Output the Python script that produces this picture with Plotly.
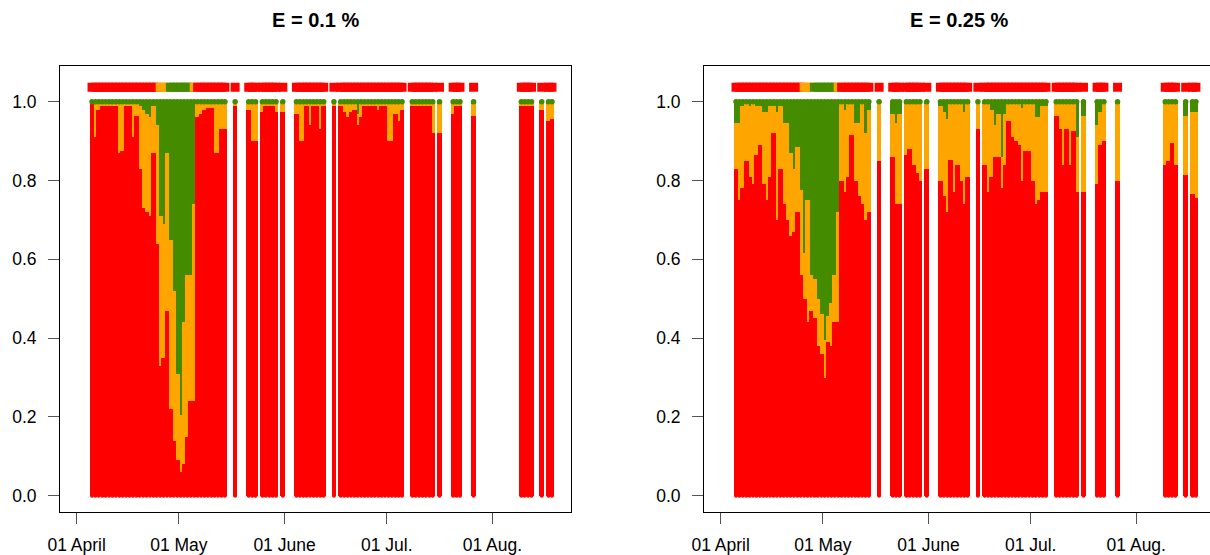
import pandas as pd
import plotly.graph_objects as go

# ---------------- data ----------------
# observation runs (consecutive days with data)
obs_runs = [
    ("2014-04-05", "2014-05-14"), ("2014-05-17", "2014-05-17"),
    ("2014-05-21", "2014-05-23"), ("2014-05-25", "2014-05-29"),
    ("2014-05-31", "2014-05-31"), ("2014-06-04", "2014-06-12"),
    ("2014-06-15", "2014-06-15"), ("2014-06-17", "2014-07-05"),
    ("2014-07-08", "2014-07-14"), ("2014-07-16", "2014-07-16"),
    ("2014-07-20", "2014-07-22"), ("2014-07-26", "2014-07-26"),
    ("2014-08-09", "2014-08-12"), ("2014-08-15", "2014-08-15"),
    ("2014-08-17", "2014-08-18"),
]

# observed class per day (R = red, O = orange, G = green)
top_class = list("RRRRRRRRRRRRRRRRRRRR" "OOOGGGGGGGORRRRRRRRR"
                 "R" "RRR" "RRRRR" "R" "RRRRRRRRR" "R"
                 "RRRRRRRRRRRRRRRRRRR" "RRRRRRR" "R" "RRR" "R" "RRRR" "R" "RR")

# E = 0.1 % : red share (bottom) and cumulative top of orange
red_e1 = [0.995, 0.91, 0.98, 0.99, 0.99, 0.99, 0.99, 0.99, 0.87, 0.875,
          0.99, 0.99, 0.91, 0.965, 0.83, 0.73, 0.72, 0.71, 0.87, 0.64,
          0.33, 0.35, 0.47, 0.22, 0.14, 0.09, 0.06, 0.08, 0.15, 0.24,
          0.24, 0.96, 0.97, 0.98, 0.985, 0.985, 0.87, 0.87, 0.93, 0.93,
          0.99,
          0.98, 0.90, 0.90,
          0.975, 0.99, 0.99, 0.99, 0.975,
          0.975,
          0.97, 0.90, 0.90, 0.99, 0.94, 0.99, 0.99, 0.93, 0.99,
          0.99,
          0.99, 0.975, 0.96, 0.975, 0.98, 0.94, 0.96, 0.99, 0.99, 0.99,
          0.99, 0.98, 0.99, 0.99, 0.90, 0.90, 0.97, 0.95, 0.98,
          0.99, 0.99, 0.99, 0.99, 0.99, 0.99, 0.92,
          0.92,
          0.97, 0.99, 0.99,
          0.965,
          0.99, 0.99, 0.99, 0.99,
          0.98,
          0.95, 0.955]
top_e1 = [1.0, 0.995, 0.995, 0.997, 0.997, 0.997, 0.997, 0.997, 0.995, 0.995,
          0.997, 0.997, 0.995, 0.995, 0.99, 0.98, 0.97, 0.96, 0.99, 0.94,
          0.71, 0.69, 0.87, 0.65, 0.52, 0.31, 0.205, 0.44, 0.56, 0.56,
          0.74, 0.995, 0.995, 0.997, 0.997, 0.997, 0.995, 0.995, 0.995, 0.995,
          0.997,
          0.997, 0.995, 0.995,
          0.997, 0.997, 0.997, 0.997, 0.997,
          0.997,
          0.997, 0.995, 0.995, 0.997, 0.997, 0.997, 0.997, 0.997, 0.997,
          0.997,
          0.997, 0.997, 0.997, 0.997, 0.997, 0.97, 0.997, 0.997, 0.997, 0.997,
          0.997, 0.997, 0.997, 0.997, 0.995, 0.995, 0.997, 0.997, 0.997,
          0.997, 0.997, 0.997, 0.997, 0.997, 0.997, 0.995,
          0.995,
          0.997, 0.997, 0.997,
          0.995,
          0.997, 0.997, 0.997, 0.997,
          0.997,
          0.995, 0.995]

# E = 0.25 %
red_e25 = [0.83, 0.75, 0.78, 0.85, 0.81, 0.79, 0.865, 0.89, 0.79, 0.75,
           0.81, 0.92, 0.70, 0.83, 0.74, 0.70, 0.66, 0.67, 0.72, 0.56,
           0.50, 0.44, 0.47, 0.45, 0.38, 0.36, 0.30, 0.39, 0.38, 0.44,
           0.44, 0.80, 0.77, 0.81, 0.915, 0.80, 0.76, 0.74, 0.70, 0.72,
           0.85,
           0.86, 0.74, 0.74,
           0.865, 0.88, 0.84, 0.82, 0.80,
           0.83,
           0.80, 0.76, 0.72, 0.853, 0.77, 0.84, 0.80, 0.74, 0.81,
           0.93,
           0.84, 0.77, 0.81, 0.86, 0.86, 0.78, 0.84, 0.95, 0.91, 0.90,
           0.89, 0.80, 0.875, 0.875, 0.80, 0.74, 0.75, 0.77, 0.77,
           0.965, 0.93, 0.84, 0.93, 0.84, 0.925, 0.77,
           0.77,
           0.79, 0.89, 0.90,
           0.80,
           0.84, 0.85, 0.895, 0.84,
           0.815,
           0.765, 0.755]
top_e25 = [0.945, 0.945, 0.99, 0.995, 0.99, 0.995, 0.99, 0.99, 0.975, 0.975,
           0.99, 0.99, 0.975, 0.99, 0.945, 0.945, 0.87, 0.83, 0.885, 0.776,
           0.615, 0.75, 0.56, 0.55, 0.50, 0.46, 0.395, 0.455, 0.49, 0.56,
           0.72, 0.995, 0.98, 0.995, 0.995, 0.945, 0.945, 0.995, 0.92, 0.98,
           0.995,
           0.97, 0.945, 0.97,
           0.995, 0.995, 0.995, 0.995, 0.995,
           0.995,
           0.99, 0.975, 0.955, 0.995, 0.995, 0.995, 0.995, 0.975, 0.995,
           0.995,
           0.995, 0.995, 0.98, 0.94, 0.97, 0.86, 0.97, 0.995, 0.995, 0.995,
           0.995, 0.985, 0.995, 0.995, 0.995, 0.96, 0.96, 0.99, 0.99,
           0.995, 0.995, 0.995, 0.995, 0.995, 0.995, 0.91,
           0.965,
           0.94, 0.975, 0.995,
           0.995,
           0.995, 0.995, 0.995, 0.995,
           0.965,
           0.975, 0.975]

panel_titles = ["E = 0.1 %", "E = 0.25 %"]
tick_dates = ["2014-04-01", "2014-05-01", "2014-06-01", "2014-07-01", "2014-08-01"]
tick_text = ["01 April", "01 May", "01 June", "01 Jul.", "01 Aug."]
y_ticks = [0.0, 0.2, 0.4, 0.6, 0.8, 1.0]

# ---------------- build ----------------
dates = []
for s, e in obs_runs:
    dates.extend(pd.date_range(s, e, freq="D") + pd.Timedelta(hours=12))

RED, ORANGE, GREEN = "#FF0000", "#FFA500", "#458B00"
cls_color = {"R": RED, "O": ORANGE, "G": GREEN}
DAY_MS = 86400000
bar_w = 1.38 * DAY_MS

fig = go.Figure()
panels = [(red_e1, top_e1), (red_e25, top_e25)]
for i, (red, top) in enumerate(panels):
    xa = "x" if i == 0 else "x2"
    ya = "y" if i == 0 else "y2"
    fig.add_trace(go.Bar(x=dates, y=[1.0] * len(dates), width=bar_w,
                         marker=dict(color=GREEN, line=dict(width=0)),
                         xaxis=xa, yaxis=ya, showlegend=False))
    fig.add_trace(go.Bar(x=dates, y=top, width=bar_w,
                         marker=dict(color=ORANGE, line=dict(width=0)),
                         xaxis=xa, yaxis=ya, showlegend=False))
    fig.add_trace(go.Bar(x=dates, y=red, width=bar_w,
                         marker=dict(color=RED, line=dict(width=0)),
                         xaxis=xa, yaxis=ya, showlegend=False))
    fig.add_trace(go.Scatter(x=dates, y=[0.0] * len(dates), mode="markers",
                             marker=dict(color=RED, size=4),
                             xaxis=xa, yaxis=ya, showlegend=False))
    fig.add_trace(go.Scatter(x=dates, y=[1.0] * len(dates), mode="markers",
                             marker=dict(color=GREEN, size=5.5),
                             xaxis=xa, yaxis=ya, showlegend=False))
    fig.add_trace(go.Scatter(x=dates, y=[1.0365] * len(dates), mode="markers",
                             marker=dict(color=[cls_color[c] for c in top_class],
                                         size=9, symbol="square",
                                         line=dict(width=0)),
                             xaxis=xa, yaxis=ya, showlegend=False))

W, H = 1210, 555
font = dict(family="Liberation Sans, Arial, sans-serif", size=17.5, color="black")
xcommon = dict(type="date", tickmode="array", tickvals=tick_dates, ticktext=tick_text,
               ticks="outside", ticklen=11, tickcolor="#555", tickwidth=1,
               showline=True, linecolor="black", linewidth=1, mirror=True,
               showgrid=False, zeroline=False, tickfont=font,
               ticklabelstandoff=6, automargin=False)
ycommon = dict(range=[-0.0406, 1.0919], tickmode="array", tickvals=y_ticks,
               tickformat=".1f", ticks="outside", ticklen=11, tickcolor="#555",
               showline=True, linecolor="black", linewidth=1,
               showgrid=False, zeroline=False, tickfont=font,
               ticklabelstandoff=8, automargin=False)
ydom = [1 - 511.7 / H, 1 - 65.5 / H]

fig.update_layout(
    width=W, height=H, margin=dict(l=0, r=0, t=0, b=0, pad=0, autoexpand=False),
    paper_bgcolor="white", plot_bgcolor="white",
    barmode="overlay", bargap=0, hovermode=False,
    xaxis=dict(xcommon, domain=[60 / W, 570.7 / W],
               range=["2014-03-27 02:24", "2014-08-24 00:00"], anchor="y"),
    yaxis=dict(ycommon, domain=ydom, anchor="x", mirror=True),
    xaxis2=dict(xcommon, domain=[704 / W, 1.0],
                range=["2014-03-27 02:24", "2014-08-22 15:22"], anchor="y2"),
    yaxis2=dict(ycommon, domain=ydom, anchor="x2", mirror=False),
    annotations=[
        dict(text="<b>" + panel_titles[0] + "</b>", x=315.4 / W, y=1 - 20 / H,
             xref="paper", yref="paper", showarrow=False, xanchor="center",
             yanchor="middle", font=dict(font, size=20)),
        dict(text="<b>" + panel_titles[1] + "</b>", x=959.4 / W, y=1 - 20 / H,
             xref="paper", yref="paper", showarrow=False, xanchor="center",
             yanchor="middle", font=dict(font, size=20)),
    ],
)

fig.write_html("out.html",
               config={"displayModeBar": False, "staticPlot": True},
               post_script="document.body.style.margin='0';"
                           "document.body.style.overflow='hidden';")
